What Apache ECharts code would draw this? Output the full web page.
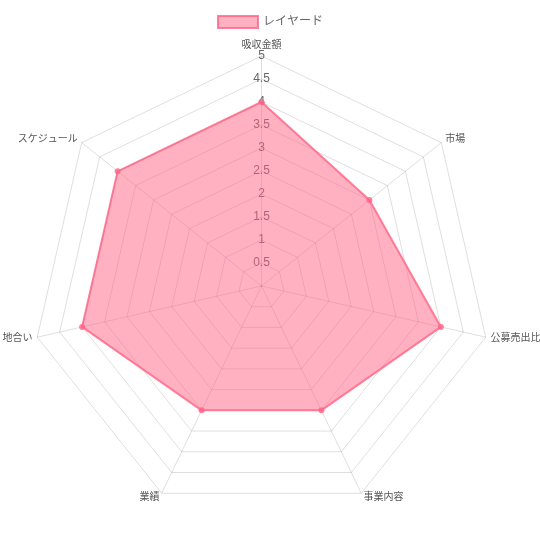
<!DOCTYPE html>
<html>
<head>
<meta charset="utf-8">
<script src="https://cdn.jsdelivr.net/npm/echarts@6/dist/echarts.min.js"></script>
<style>
html,body{margin:0;padding:0;background:#fff;}
#c{width:540px;height:540px;}
</style>
</head>
<body>
<div id="c"></div>
<script>
// clockwise from top, as in the reference
const categories = ['吸収金額', '市場', '公募売出比', '事業内容', '業績', '地合い', 'スケジュール'];
const values = [4, 3, 4, 3, 3, 4, 4];
const seriesName = 'レイヤード';
const maxValue = 5;
const tickStep = 0.5;

// ECharts radar places indicators counter-clockwise; reorder so they read clockwise
const order = [0].concat(categories.map((_, i) => i).slice(1).reverse());
const indicators = order.map((i, k) => ({
  name: categories[i],
  min: 0,
  max: maxValue,
  axisLabel: { show: k === 0 }
}));
const orderedValues = order.map(i => values[i]);

const chart = echarts.init(document.getElementById('c'));
const font = '"Helvetica Neue", Helvetica, Arial, "Liberation Sans", "Noto Sans CJK JP", sans-serif';
chart.setOption({
  animation: false,
  legend: {
    top: 10,
    left: 'center',
    itemWidth: 40,
    itemHeight: 12,
    itemGap: 10,
    textStyle: { fontSize: 12, color: '#666', fontFamily: font },
    data: [{
      name: seriesName,
      icon: 'rect',
      itemStyle: { color: 'rgba(255,99,132,0.5)', borderColor: 'rgba(255,99,132,0.8)', borderWidth: 2 }
    }]
  },
  radar: {
    center: [261.5, 286],
    radius: 230,
    startAngle: 90,
    shape: 'polygon',
    splitNumber: maxValue / tickStep,
    indicator: indicators,
    axisName: { color: '#555', fontSize: 10, fontFamily: font },
    nameGap: 5,
    axisLine: { lineStyle: { color: 'rgba(0,0,0,0.13)' } },
    splitLine: { lineStyle: { color: 'rgba(0,0,0,0.13)' } },
    splitArea: { show: false },
    axisTick: { show: false },
    axisLabel: {
      show: false,
      color: '#666',
      fontSize: 12,
      fontFamily: font,
      margin: 0,
      align: 'center',
      verticalAlign: 'middle',
      formatter: v => (v === 0 ? '' : String(v))
    }
  },
  series: [{
    name: seriesName,
    type: 'radar',
    symbol: 'circle',
    symbolSize: 6,
    lineStyle: { color: 'rgba(255,99,132,0.8)', width: 2 },
    itemStyle: { color: 'rgba(255,99,132,0.8)' },
    areaStyle: { color: 'rgb(255,99,132)', opacity: 0.5 },
    data: [{ name: seriesName, value: orderedValues }]
  }]
});
</script>
</body>
</html>
